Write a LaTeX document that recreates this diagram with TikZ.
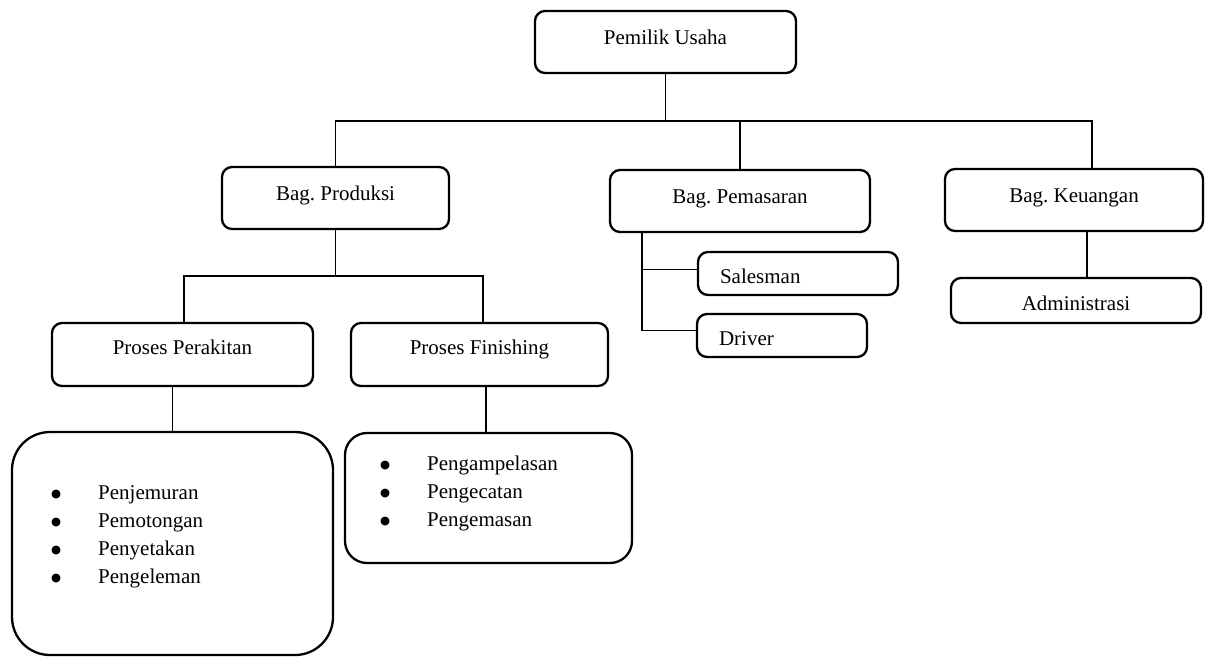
\documentclass[tikz,border=0pt]{standalone}
\usepackage{fontspec}
\setmainfont{Liberation Serif}
\newfontfamily\dotfont{DejaVu Sans}
\usepackage{tikz}
\frenchspacing
\newcommand{\listdot}{\makebox[47pt][l]{\raisebox{2pt}{\dotfont\fontsize{11.5}{12}\selectfont ●}}}

\begin{document}
\begin{tikzpicture}[
    x=1pt, y=-1pt,
    box/.style={draw, rounded corners=10pt, line width=2.3pt, align=center, inner sep=0pt, font=\fontsize{21}{25}\selectfont, text height=12pt, text depth=8pt},
    subbox/.style={box, align=left, inner xsep=22pt, text height=23pt, text depth=3pt},
    listbox/.style={draw, line width=2.3pt},
    listtext/.style={anchor=north west, inner sep=0pt, align=left, font=\fontsize{21}{28}\selectfont},
    link/.style={line width=1.3pt}
]
\useasboundingbox (0,0) rectangle (1206,657);
\node[box, minimum width=261pt, minimum height=62pt] (owner) at (665.5,42) {Pemilik Usaha};
\node[box, minimum width=227pt, minimum height=62pt] (prod) at (335.5,198) {Bag. Produksi};
\node[box, minimum width=260pt, minimum height=62pt] (pemasaran) at (740,201) {Bag. Pemasaran};
\node[box, minimum width=258pt, minimum height=62pt] (keu) at (1074,200) {Bag. Keuangan};
\node[box, minimum width=261pt, minimum height=63pt, text height=10pt, text depth=10pt] (rakit) at (182.5,354.5) {Proses Perakitan};
\node[box, minimum width=257pt, minimum height=63pt, text height=10pt, text depth=10pt] (fin) at (479.5,354.5) {Proses Finishing};
\node[subbox, text width=156pt, minimum height=43pt] (sales) at (798,273.5) {Salesman};
\node[subbox, text width=126pt, minimum height=43pt] (driver) at (782,335.5) {Driver};
\node[subbox, align=center, inner xsep=0pt, minimum width=250pt, minimum height=45pt] (admin) at (1076,300.5) {Administrasi};
\node[listbox, rounded corners=38pt, minimum width=321pt, minimum height=223pt] (rakitbox) at (172.5,543.5) {};
\node[listbox, rounded corners=22pt, minimum width=287pt, minimum height=130pt] (finbox) at (488.5,498) {};
\node[listtext] (rakitlist) at (51,479) {\rule{0pt}{20pt}\listdot Penjemuran\\
  \listdot Pemotongan\\
  \listdot Penyetakan\\
  \listdot Pengeleman};
\node[listtext] (finlist) at (380,450) {\rule{0pt}{20pt}\listdot Pengampelasan\\
  \listdot Pengecatan\\
  \listdot Pengemasan};
\coordinate (bus1) at (0,121);
\coordinate (bus2) at (0,276);
\coordinate (spine) at (642,0);
\draw[link] (owner.south) -- (owner.south |- bus1);
\draw[link] (prod.north) |- ([xshift=18pt]keu.north |- bus1) -- ([xshift=18pt]keu.north);
\draw[link] (pemasaran.north) -- (pemasaran.north |- bus1);
\draw[link] (prod.south) -- (prod.south |- bus2);
\draw[link] ([xshift=1.5pt]rakit.north) |- ([xshift=3.5pt]fin.north |- bus2) -- ([xshift=3.5pt]fin.north);
\draw[link] (rakitbox.north) -- (rakitbox.north |- rakit.south);
\draw[link] ([xshift=-2.5pt]finbox.north) -- ([xshift=-2.5pt]finbox.north |- fin.south);
\draw[link] (pemasaran.south -| spine) |- ([yshift=5pt]driver.west);
\draw[link] ([yshift=4pt]sales.west) -- ([yshift=4pt]sales.west -| spine);
\draw[link] ([xshift=13pt]keu.south) -- ([xshift=13pt]keu.south |- admin.north);
\end{tikzpicture}
\end{document}
